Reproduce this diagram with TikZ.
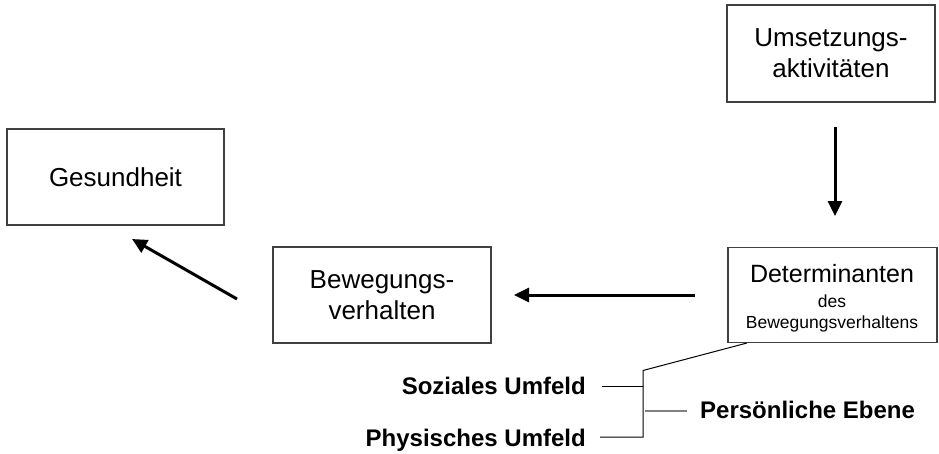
\documentclass[tikz,border=0pt]{standalone}
\usepackage{fontspec}
\setmainfont{Liberation Sans}
\usetikzlibrary{arrows.meta}
\begin{document}
\begin{tikzpicture}[x=1pt,y=-1pt,
  box/.style={draw=black!75,line width=1.3pt,inner sep=0pt,align=center,font=\fontsize{26}{31}\selectfont},
  bigarrow/.style={line width=3pt,-{Triangle[length=15pt,width=14pt]}},
  thin/.style={line width=1pt},
  greyline/.style={line width=1.5pt,draw=black!50},
  lbl/.style={inner sep=0pt,font=\fontsize{24}{28}\selectfont\bfseries}]
\useasboundingbox (0,0) rectangle (939,453);
\node[box,minimum width=217pt,minimum height=96pt] (ges) at (115.5,177) {Gesundheit};
\node[box,minimum width=208pt,minimum height=97pt] (ums) at (831,53.5) {Umsetzungs-\\aktivitäten};
\node[box,minimum width=218pt,minimum height=96pt] (bew) at (382,295) {Bewegungs-\\verhalten};
\node[draw=black!75,line width=1.3pt,minimum width=209pt,minimum height=95pt,inner sep=0pt] (det) at (832.5,295) {};
\node[inner sep=0pt,anchor=base,font=\fontsize{25}{30}\selectfont] (detA) at (832,282) {Determinanten};
\node[inner sep=0pt,anchor=base,font=\fontsize{17.5}{21}\selectfont] (detB) at (832,307) {des};
\node[inner sep=0pt,anchor=base,font=\fontsize{17.5}{21}\selectfont] (detC) at (832,328) {Bewegungsverhaltens};
\node[lbl,anchor=base east] (soz) at (586,394) {Soziales Umfeld};
\node[lbl,anchor=base east] (phy) at (586,446) {Physisches Umfeld};
\node[lbl,anchor=base west] (per) at (700,418) {Persönliche Ebene};
% arrow endpoints
\coordinate (d1) at (835,127);
\coordinate (d2) at (835,216);
\coordinate (h1) at (695,295);
\coordinate (h2) at (514,295);
\coordinate (g1) at (237,299);
\coordinate (g2) at (132,239);
\draw[bigarrow] (d1) -- (d2);
\draw[bigarrow] (h1) -- (h2);
\draw[bigarrow] (g1) -- (g2);
% bracket
\coordinate (dfoot) at (747,343);
\coordinate (jtop) at (643,370.5);
\coordinate (jsoz) at (643,386);
\coordinate (jphy) at (643,437);
\coordinate (sozr) at (602,386);
\coordinate (phyr) at (600,437);
\coordinate (gl) at (645,411);
\coordinate (gr) at (687,411);
\draw[thin] (dfoot) -- (jtop) -- (jphy) -- (phyr);
\draw[thin] (jsoz) -- (sozr);
\draw[greyline] (gl) -- (gr);
\end{tikzpicture}
\end{document}
